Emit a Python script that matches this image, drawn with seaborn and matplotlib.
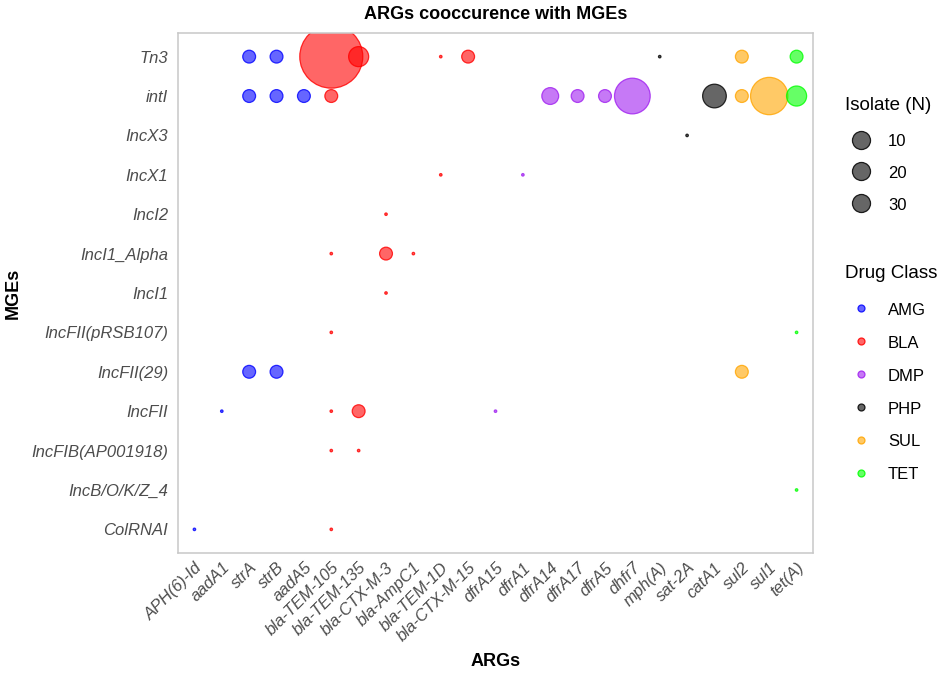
import numpy as np
import pandas as pd
import matplotlib
matplotlib.use("Agg")
import matplotlib.pyplot as plt
import seaborn as sns
from matplotlib.lines import Line2D
from matplotlib.colors import to_rgba

# ---------------- data ----------------
arg_order = ["APH(6)-Id", "aadA1", "strA", "strB", "aadA5", "bla-TEM-105",
             "bla-TEM-135", "bla-CTX-M-3", "bla-AmpC1", "bla-TEM-1D",
             "bla-CTX-M-15", "dfrA15", "dfrA1", "dfrA14", "dfrA17", "dfrA5",
             "dhfr7", "mph(A)", "sat-2A", "catA1", "sul2", "sul1", "tet(A)"]
arg_class = ["AMG", "AMG", "AMG", "AMG", "AMG", "BLA",
             "BLA", "BLA", "BLA", "BLA",
             "BLA", "DMP", "DMP", "DMP", "DMP", "DMP",
             "DMP", "PHP", "PHP", "PHP", "SUL", "SUL", "TET"]
mge_order = ["ColRNAI", "IncB/O/K/Z_4", "IncFIB(AP001918)", "IncFII",
             "IncFII(29)", "IncFII(pRSB107)", "IncI1", "IncI1_Alpha", "IncI2",
             "IncX1", "IncX3", "intI", "Tn3"]

pt_mge = (["Tn3"] * 9 + ["intI"] * 12 + ["IncX3"] + ["IncX1"] * 2 + ["IncI2"]
          + ["IncI1_Alpha"] * 3 + ["IncI1"] + ["IncFII(pRSB107)"] * 2
          + ["IncFII(29)"] * 3 + ["IncFII"] * 4 + ["IncFIB(AP001918)"] * 2
          + ["IncB/O/K/Z_4"] + ["ColRNAI"] * 2)
pt_arg = ["strA", "strB", "bla-TEM-105", "bla-TEM-135", "bla-TEM-1D", "bla-CTX-M-15", "mph(A)", "sul2", "tet(A)",
          "strA", "strB", "aadA5", "bla-TEM-105", "dfrA14", "dfrA17", "dfrA5", "dhfr7", "catA1", "sul2", "sul1", "tet(A)",
          "sat-2A",
          "bla-TEM-1D", "dfrA1",
          "bla-CTX-M-3",
          "bla-TEM-105", "bla-CTX-M-3", "bla-AmpC1",
          "bla-CTX-M-3",
          "bla-TEM-105", "tet(A)",
          "strA", "strB", "sul2",
          "aadA1", "bla-TEM-105", "bla-TEM-135", "dfrA15",
          "bla-TEM-105", "bla-TEM-135",
          "tet(A)",
          "APH(6)-Id", "bla-TEM-105"]
pt_n = [5, 5, 101, 11, 1, 5, 1, 5, 5,
        5, 5, 5, 5, 8, 5, 5, 33, 15, 5, 36, 11,
        1,
        1, 1,
        1,
        1, 5, 1,
        1,
        1, 1,
        5, 5, 5,
        1, 1, 5, 1,
        1, 1,
        1,
        1, 1]

class_names = ["AMG", "BLA", "DMP", "PHP", "SUL", "TET"]
class_colors = ["#0000FF", "#FF0000", "#A020F0", "#000000", "#FFA500", "#00FF00"]
size_legend_values = [10, 20, 30]

# ---------------- frame ----------------
cls_of = dict(zip(arg_order, arg_class))
df = pd.DataFrame({"MGE": pt_mge, "ARG": pt_arg, "N": pt_n})
df["cls"] = df["ARG"].map(cls_of)
df["xi"] = df["ARG"].map({a: i for i, a in enumerate(arg_order)})
df["yi"] = df["MGE"].map({m: i for i, m in enumerate(mge_order)})
palette = dict(zip(class_names, class_colors))

plt.rcParams["font.family"] = ["Liberation Sans", "DejaVu Sans"]
fig = plt.figure(figsize=(9.43, 6.74), dpi=100)
ax = fig.add_axes([178 / 943, 1 - 553 / 674, (813 - 178) / 943, (553 - 33) / 674])

sns.scatterplot(data=df, x="xi", y="yi", hue="cls", palette=palette,
                size="N", sizes=(3.2, 2057), size_norm=(1, 101),
                legend=False, ax=ax, linewidth=0.9)

coll = ax.collections[0]
rgb = [to_rgba(palette[c]) for c in df["cls"]]
coll.set_facecolors([(r, g, b, 0.6) for r, g, b, a in rgb])
coll.set_edgecolors([(r, g, b, 0.8) for r, g, b, a in rgb])

ax.set_xlim(-0.6, len(arg_order) - 0.4)
ax.set_ylim(-0.6, len(mge_order) - 0.4)
ax.set_xticks(range(len(arg_order)))
ax.set_xticklabels(arg_order, rotation=45, ha="right", va="top",
                   rotation_mode="anchor", fontstyle="italic", fontsize=12,
                   color="#4D4D4D")
ax.set_yticks(range(len(mge_order)))
ax.set_yticklabels(mge_order, fontstyle="italic", fontsize=12, color="#4D4D4D")
ax.tick_params(axis="both", length=0)
ax.tick_params(axis="y", pad=7)
ax.tick_params(axis="x", pad=5)
ax.grid(False)
for s in ax.spines.values():
    s.set_color("#C8C8C8")
    s.set_linewidth(1.1)

ax.set_xlabel("ARGs", fontsize=13, fontweight="bold")
ax.xaxis.set_label_coords(0.5, -(662 - 553) / 520)
ax.xaxis.label.set_verticalalignment("center")
ax.set_ylabel("MGEs", fontsize=13, fontweight="bold")
ax.yaxis.set_label_coords(-(178 - 13) / 635, 0.5)
ax.yaxis.label.set_verticalalignment("center")
ax.set_title("ARGs cooccurence with MGEs", fontsize=13, fontweight="bold", pad=10)

# ---------------- legends ----------------
fig.text(845 / 943, 1 - 105 / 674, "Isolate (N)", fontsize=13.5, va="center", ha="left")
size_handles = [Line2D([], [], linestyle="none", marker="o", markersize=13,
                       markerfacecolor=(0, 0, 0, 0.6), markeredgecolor=(0, 0, 0, 0.85),
                       markeredgewidth=0.9) for v in size_legend_values]
leg1 = fig.legend(size_handles, [str(v) for v in size_legend_values],
                  loc="center left", bbox_to_anchor=(845 / 943, 1 - 173 / 674),
                  frameon=False, fontsize=12, borderpad=0, borderaxespad=0,
                  handlelength=1.92, handletextpad=0.66, labelspacing=0.93,
                  handleheight=1.0)

fig.text(845 / 943, 1 - 274 / 674, "Drug Class", fontsize=13.5, va="center", ha="left")
cls_handles = [Line2D([], [], linestyle="none", marker="o", markersize=5,
                      markerfacecolor=to_rgba(c, 0.6), markeredgecolor=to_rgba(c, 0.85),
                      markeredgewidth=0.9) for c in class_colors]
leg2 = fig.legend(cls_handles, class_names,
                  loc="center left", bbox_to_anchor=(845 / 943, 1 - 392 / 674),
                  frameon=False, fontsize=12, borderpad=0, borderaxespad=0,
                  handlelength=1.92, handletextpad=0.66, labelspacing=1.0,
                  handleheight=1.0)

fig.savefig("out.png", dpi=100)
